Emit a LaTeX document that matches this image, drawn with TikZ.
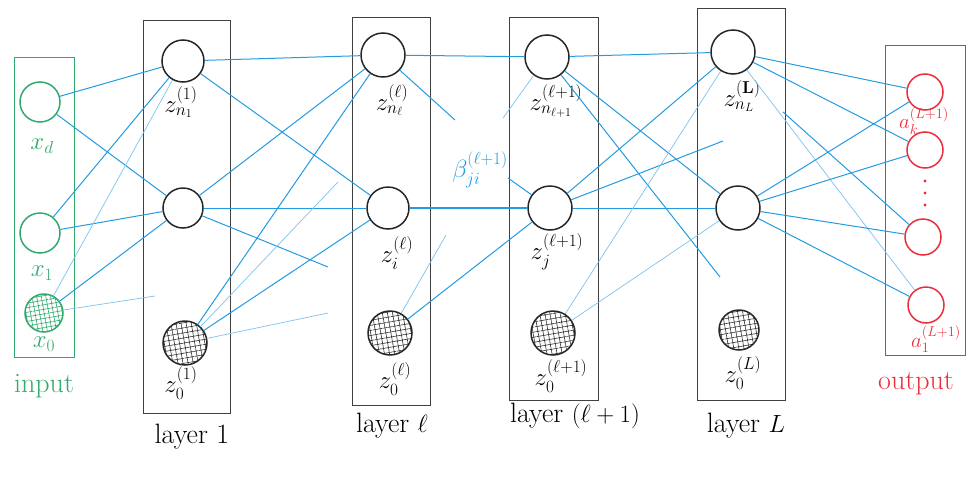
\documentclass[tikz,border=0pt]{standalone}
\usepackage{amsmath}
\usepackage{amssymb}
\usepackage{xcolor}
\usepackage{tikz}
\usetikzlibrary{arrows.meta,patterns.meta}

\definecolor{wireblue}{RGB}{35,155,225}
\definecolor{ingreen}{RGB}{50,170,110}
\definecolor{outred}{RGB}{235,45,60}

\begin{document}
\begin{tikzpicture}[x=1pt,y=-1pt,
  neuron/.style={circle,draw=black!85,line width=1.5pt,minimum size=42pt,inner sep=0pt},
  bias/.style={neuron,pattern={Hatch[angle=10,distance=5pt,line width=0.6pt]},pattern color=black!80},
  inneuron/.style={neuron,draw=ingreen,minimum size=40pt},
  inbias/.style={inneuron,pattern={Hatch[angle=10,distance=4.5pt,line width=0.6pt]},pattern color=ingreen},
  outneuron/.style={neuron,draw=outred,minimum size=36pt},
  layerbox/.style={draw=black!75,line width=0.6pt},
  wire/.style={wireblue,line width=1pt},
  faint/.style={wireblue!60,line width=0.7pt},
  lab/.style={inner sep=0pt,font=\fontsize{25}{30}\selectfont},
  outlab/.style={inner sep=0pt,text=outred,font=\fontsize{20}{24}\selectfont},
  title/.style={inner sep=0pt,font=\fontsize{28}{32}\selectfont}]
  \useasboundingbox (0,0) rectangle (977,477);

  % boxes
  \draw[ingreen,line width=1pt] (14,57) rectangle (74,357);
  \draw[layerbox] (143,20) rectangle (230,413);
  \draw[layerbox] (352,17) rectangle (430,405);
  \draw[layerbox] (509,17) rectangle (598,400);
  \draw[layerbox] (697,8) rectangle (785,400);
  \draw[outred,line width=1pt] (885,45) rectangle (965,355);

  % input
  \node[inneuron] (xd) at (40,102) {};
  \node[inneuron] (x1) at (40,233) {};
  \node[inbias,minimum size=38pt] (x0) at (44,313) {};
  \node[lab,text=ingreen] (lxd) at (42,146) {$x_d$};
  \node[lab,text=ingreen] (lx1) at (42,273) {$x_1$};
  \node[lab,text=ingreen] (lx0) at (44,344) {$x_0$};
  \node[title,text=ingreen] (tin) at (44,386) {input};

  % layer 1
  \node[neuron] (zn1) at (183,61) {};
  \node[neuron,minimum size=40pt] (zm1) at (183,208) {};
  \node[bias,minimum size=44pt] (zo1) at (185,343) {};
  \node[lab] (lzn1) at (181,102) {$z^{(1)}_{n_1}$};
  \node[lab] (lzo1) at (181,383) {$z^{(1)}_{0}$};
  \node[title] (t1) at (192,437) {layer 1};

  % layer l
  \node[neuron,minimum size=44pt] (znl) at (383,55) {};
  \node[neuron] (zil) at (388,208) {};
  \node[bias,minimum size=44pt] (zol) at (390,333) {};
  \node[lab] (lznl) at (392,100) {$z^{(\ell)}_{n_\ell}$};
  \node[lab] (lzil) at (397,253) {$z^{(\ell)}_{i}$};
  \node[lab] (lzol) at (395,379) {$z^{(\ell)}_{0}$};
  \node[title] (tl) at (392,426) {layer $\ell$};

  % layer l+1
  \node[neuron,minimum size=44pt] (znk) at (547,57) {};
  \node[neuron,minimum size=44pt] (zjk) at (550,208) {};
  \node[bias,minimum size=44pt] (zok) at (553,333) {};
  \node[lab] (lznk) at (556,101) {$z^{(\ell+1)}_{n_{\ell+1}}$};
  \node[lab] (lzjk) at (557,252) {$z^{(\ell+1)}_{j}$};
  \node[lab] (lzok) at (561,376) {$z^{(\ell+1)}_{0}$};
  \node[title] (tk) at (575,416) {layer $(\ell+1)$};

  % layer L
  \node[neuron,minimum size=44pt] (znL) at (733,52) {};
  \node[neuron,minimum size=44pt] (zmL) at (738,208) {};
  \node[bias,minimum size=40pt] (zoL) at (739,330) {};
  \node[lab] (lznL) at (742,96) {$z^{(\mathbf{L})}_{n_L}$};
  \node[lab] (lzoL) at (743,373) {$z^{(L)}_{0}$};
  \node[title] (tL) at (746,426) {layer $L$};

  % output
  \node[outneuron] (ak) at (925,92) {};
  \node[outneuron] (a2) at (925,150) {};
  \node[outneuron] (a3) at (923,237) {};
  \node[outneuron] (a1) at (926,305) {};
  \node[outlab] (lak) at (924,121) {$a^{(L+1)}_{k}$};
  \node[outlab] (la1) at (936,339) {$a^{(L+1)}_{1}$};
  \foreach \y in {181,193,205}
    \fill[outred] (925,\y) circle (1.6pt);
  \node[title,text=outred] (tout) at (916,384) {output};

  % weight label
  \node[lab,text=wireblue,font=\fontsize{26}{30}\selectfont] (beta) at (480,170) {$\beta^{(\ell+1)}_{ji}$};

  % loose ends
  \coordinate (c1) at (155,296);
  \coordinate (c2) at (328,267);
  \coordinate (c3) at (338,182);
  \coordinate (c4) at (328,313);
  \coordinate (c5) at (455,120);
  \coordinate (c6) at (446,235);
  \coordinate (c7) at (503,118);
  \coordinate (c8) at (508,178);
  \coordinate (c9) at (720,277);
  \coordinate (c10) at (723,141);
  \coordinate (c11) at (783,112);

  % input -> layer 1
  \draw[wire] (xd) -- (zn1);
  \draw[wire] (xd) -- (zm1);
  \draw[wire] (x1) -- (zn1);
  \draw[wire] (x1) -- (zm1);
  \draw[faint] (x0) -- (zn1);
  \draw[wire] (x0) -- (zm1);
  \draw[faint] (x0) -- (c1);

  % layer 1 -> layer l
  \draw[wire] (zn1) -- (znl);
  \draw[wire] (zn1) -- (zil);
  \draw[wire] (zm1) -- (znl);
  \draw[wire] (zm1) -- (zil);
  \draw[wire] (zm1) -- (c2);
  \draw[wire] (zo1) -- (znl);
  \draw[faint] (zo1) -- (c3);
  \draw[wire] (zo1) -- (zil);
  \draw[faint] (zo1) -- (c4);

  % layer l -> layer l+1
  \draw[wire] (znl) -- (znk);
  \draw[wire] (znl) -- (c5);
  \draw[wireblue,line width=1.8pt] (zil) -- (zjk);
  \draw[faint] (zol) -- (c6);
  \draw[wire] (zol) -- (zjk);
  \draw[faint] (c7) -- (znk);
  \draw[wire] (c8) -- (zjk);

  % layer l+1 -> layer L
  \draw[wire] (znk) -- (znL);
  \draw[wire] (znk) -- (zmL);
  \draw[wire] (znk) -- (c9);
  \draw[wire] (zjk) -- (znL);
  \draw[wire] (zjk) -- (c10);
  \draw[wire] (zjk) -- (zmL);
  \draw[faint] (zok) -- (znL);
  \draw[faint] (zok) -- (zmL);

  % layer L -> output
  \draw[wire] (znL) -- (ak);
  \draw[wire] (znL) -- (a2);
  \draw[faint] (znL) -- (a1);
  \draw[wire] (c11) -- (a3);
  \draw[wire] (zmL) -- (ak);
  \draw[wire] (zmL) -- (a2);
  \draw[wire] (zmL) -- (a3);
  \draw[wire] (zmL) -- (a1);
\end{tikzpicture}
\end{document}
